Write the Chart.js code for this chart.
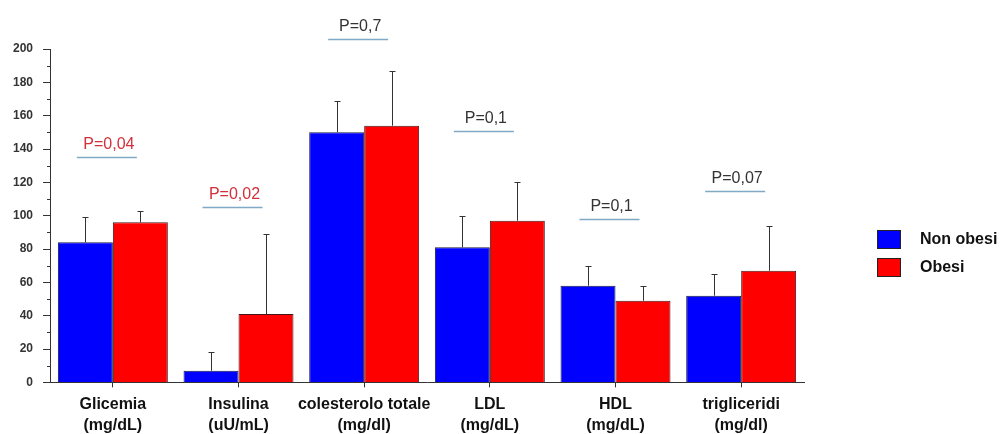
<!DOCTYPE html>
<html lang="it">
<head>
    <meta charset="UTF-8">
    <title>Non obesi vs Obesi</title>
    <script src="https://cdn.jsdelivr.net/npm/chart.js"></script>
    <style>
        html, body {
            margin: 0;
            padding: 0;
            background: #ffffff;
        }
        .chart-container {
            width: 1000px;
            height: 434px;
            position: relative;
        }
    </style>
</head>
<body>
    <div class="chart-container">
        <canvas id="grafico"></canvas>
    </div>

    <script>
        // Dati: medie e deviazioni standard per gruppo
        const categorie = [
            ['Glicemia', '(mg/dL)'],
            ['Insulina', '(uU/mL)'],
            ['colesterolo totale', '(mg/dl)'],
            ['LDL', '(mg/dL)'],
            ['HDL', '(mg/dL)'],
            ['trigliceridi', '(mg/dl)']
        ];
        const mediaNonObesi = [84, 7, 150, 81, 58, 52];
        const dsNonObesi = [15, 11, 19, 19, 12, 13];
        const mediaObesi = [96, 41, 154, 97, 49, 67];
        const dsObesi = [7, 48, 33, 23, 9, 27];

        // Valori di P e altezza (in mg/dL) della linea sopra ogni coppia
        const valoriP = [0.04, 0.02, 0.7, 0.1, 0.1, 0.07];
        const livelliP = [135, 105, 206, 151, 98, 115];

        const yTicks = [0, 20, 40, 60, 80, 100, 120, 140, 160, 180, 200];

        const FONT = "'Liberation Sans', Arial, sans-serif";

        // Barre di errore (solo verso l'alto)
        const barreErrore = {
            id: 'barreErrore',
            afterDatasetsDraw(chart) {
                const ctx = chart.ctx;
                const y = chart.scales.y;
                ctx.save();
                ctx.strokeStyle = '#333333';
                ctx.lineWidth = 1;
                chart.data.datasets.forEach((ds, d) => {
                    const meta = chart.getDatasetMeta(d);
                    meta.data.forEach((bar, i) => {
                        const x = Math.round(bar.x) + 0.5;
                        const top = Math.round(y.getPixelForValue(ds.data[i] + ds.sd[i])) + 0.5;
                        ctx.beginPath();
                        ctx.moveTo(x, bar.y);
                        ctx.lineTo(x, top);
                        ctx.moveTo(x - 3, top);
                        ctx.lineTo(x + 3, top);
                        ctx.stroke();
                    });
                });
                ctx.restore();
            }
        };

        // Tacche secondarie sull'asse y
        const tacche = {
            id: 'tacche',
            afterDraw(chart) {
                const ctx = chart.ctx;
                const y = chart.scales.y;
                ctx.save();
                ctx.strokeStyle = '#333333';
                ctx.lineWidth = 1;
                for (let v = 10; v < 200; v += 20) {
                    const py = Math.round(y.getPixelForValue(v)) + 0.5;
                    ctx.beginPath();
                    ctx.moveTo(chart.chartArea.left - 3, py);
                    ctx.lineTo(chart.chartArea.left, py);
                    ctx.stroke();
                }
                ctx.restore();
            }
        };

        // Etichette "P=..." con linea sotto
        const etichetteP = {
            id: 'etichetteP',
            afterDraw(chart) {
                const ctx = chart.ctx;
                const x = chart.scales.x;
                const y = chart.scales.y;
                ctx.save();
                ctx.font = '16px ' + FONT;
                ctx.textAlign = 'center';
                ctx.textBaseline = 'middle';
                valoriP.forEach((p, i) => {
                    const cx = x.getPixelForValue(i) - 6;
                    const py = Math.round(y.getPixelForValue(livelliP[i])) + 0.5;
                    ctx.strokeStyle = '#7fa9c4';
                    ctx.lineWidth = 1.5;
                    ctx.beginPath();
                    ctx.moveTo(cx - 30, py);
                    ctx.lineTo(cx + 30, py);
                    ctx.stroke();
                    ctx.fillStyle = p < 0.05 ? '#d2303a' : '#333333';
                    ctx.fillText('P=' + String(p).replace('.', ','), cx + 2, py - 13);
                });
                ctx.restore();
            }
        };

        // Legenda a destra
        const legenda = {
            id: 'legenda',
            afterDraw(chart) {
                const ctx = chart.ctx;
                ctx.save();
                ctx.font = 'bold 16px ' + FONT;
                ctx.textBaseline = 'middle';
                chart.data.datasets.forEach((ds, d) => {
                    const top = 230 + d * 28;
                    ctx.fillStyle = ds.backgroundColor;
                    ctx.fillRect(877, top, 24, 19);
                    ctx.strokeStyle = '#222222';
                    ctx.lineWidth = 1;
                    ctx.strokeRect(877.5, top + 0.5, 23, 18);
                    ctx.fillStyle = '#111111';
                    ctx.fillText(ds.label, 920, top + 10);
                });
                ctx.restore();
            }
        };

        const ctx = document.getElementById('grafico').getContext('2d');
        new Chart(ctx, {
            type: 'bar',
            data: {
                labels: categorie,
                datasets: [{
                    label: 'Non obesi',
                    data: mediaNonObesi,
                    sd: dsNonObesi,
                    backgroundColor: '#0000ff',
                    borderColor: '#1a1a40',
                    borderWidth: 1
                }, {
                    label: 'Obesi',
                    data: mediaObesi,
                    sd: dsObesi,
                    backgroundColor: '#ff0000',
                    borderColor: '#401a1a',
                    borderWidth: 1
                }]
            },
            options: {
                responsive: true,
                maintainAspectRatio: false,
                animation: false,
                categoryPercentage: 0.875,
                barPercentage: 1.0,
                layout: {
                    padding: { left: 3, right: 196, top: 49, bottom: -9 }
                },
                plugins: {
                    legend: { display: false },
                    tooltip: { enabled: false }
                },
                scales: {
                    x: {
                        grid: {
                            offset: false,
                            drawOnChartArea: false,
                            tickLength: 5,
                            color: '#333333'
                        },
                        border: { color: '#333333', width: 1 },
                        ticks: {
                            autoSkip: false,
                            padding: 7,
                            maxRotation: 0,
                            color: '#111111',
                            font: { family: FONT, size: 16, weight: 'bold', lineHeight: 1.3 }
                        }
                    },
                    y: {
                        min: 0,
                        max: 200,
                        afterBuildTicks(scale) {
                            scale.ticks = yTicks.map(v => ({ value: v }));
                        },
                        grid: {
                            drawOnChartArea: false,
                            tickLength: 7,
                            color: '#333333'
                        },
                        border: { color: '#333333', width: 1 },
                        ticks: {
                            padding: 10,
                            color: '#333333',
                            font: { family: FONT, size: 12, weight: 'bold' }
                        }
                    }
                }
            },
            plugins: [barreErrore, tacche, etichetteP, legenda]
        });
    </script>
</body>
</html>
